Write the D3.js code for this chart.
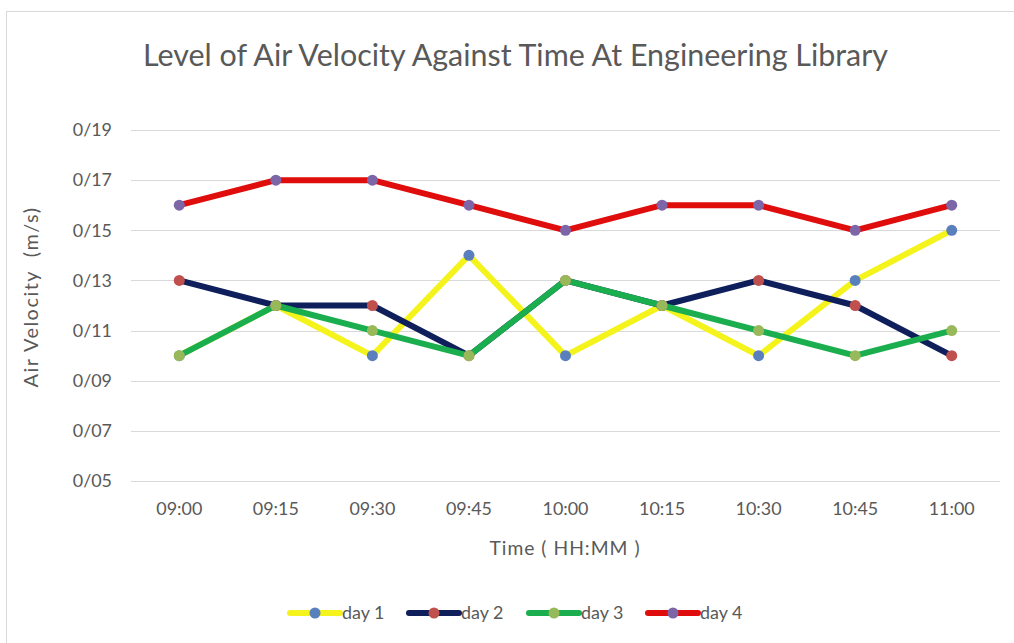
<!DOCTYPE html>
<html>
<head>
<meta charset="utf-8">
<script src="https://cdn.jsdelivr.net/npm/d3@7"></script>
<style>
  body { margin: 0; background: #fff; }
  text { font-family: Lato, "Open Sans", sans-serif; fill: #595959; }
</style>
</head>
<body>
<div id="chart"></div>
<script>
const times = ["09:00", "09:15", "09:30", "09:45", "10:00", "10:15", "10:30", "10:45", "11:00"];
const yTicks = [0.05, 0.07, 0.09, 0.11, 0.13, 0.15, 0.17, 0.19];
const day1 = [0.10, 0.12, 0.10, 0.14, 0.10, 0.12, 0.10, 0.13, 0.15];
const day2 = [0.13, 0.12, 0.12, 0.10, 0.13, 0.12, 0.13, 0.12, 0.10];
const day3 = [0.10, 0.12, 0.11, 0.10, 0.13, 0.12, 0.11, 0.10, 0.11];
const day4 = [0.16, 0.17, 0.17, 0.16, 0.15, 0.16, 0.16, 0.15, 0.16];
const seriesNames = ["day 1", "day 2", "day 3", "day 4"];

const series = [
  { name: seriesNames[0], values: day1, line: "#f4f41c", dot: "#5a7fbd" },
  { name: seriesNames[1], values: day2, line: "#0e1f5b", dot: "#c0504d" },
  { name: seriesNames[2], values: day3, line: "#1aae4e", dot: "#97b95a" },
  { name: seriesNames[3], values: day4, line: "#e00d0d", dot: "#7d66a8" }
];

const width = 1014, height = 643;
const margin = { top: 130, left: 131, right: 14, bottom: 162 };

const svg = d3.select("#chart").append("svg")
  .attr("width", width)
  .attr("height", height);

// scale a text's font so it is as wide as the original
function fitWidth(sel, target) {
  const node = sel.node();
  const size = parseFloat(sel.style("font-size"));
  const w = node.getComputedTextLength();
  sel.style("font-size", (size * target / w).toFixed(2) + "px");
  return sel;
}

// chart border
svg.append("rect")
  .attr("x", 6.5).attr("y", 11.5)
  .attr("width", 1020).attr("height", 640)
  .attr("fill", "#fff")
  .attr("stroke", "#d9d9d9");

const x = d3.scaleBand()
  .domain(times)
  .range([margin.left, width - margin.right]);

const y = d3.scaleLinear()
  .domain([0.05, 0.19])
  .range([481, 130]);

// gridlines
svg.append("g")
  .selectAll("line")
  .data(yTicks).enter()
  .append("line")
  .attr("x1", margin.left)
  .attr("x2", width - margin.right)
  .attr("y1", d => Math.round(y(d)) + 0.5)
  .attr("y2", d => Math.round(y(d)) + 0.5)
  .attr("stroke", "#d9d9d9")
  .attr("stroke-width", 1);

// work out a tick font size from one label
const probe = svg.append("text").style("font-size", "16px").text("09:00");
fitWidth(probe, 46);
const tickSize = probe.style("font-size");
probe.remove();

// y tick labels
svg.append("g")
  .selectAll("text")
  .data(yTicks).enter()
  .append("text")
  .attr("x", 112)
  .attr("y", d => y(d))
  .attr("dy", "0.35em")
  .attr("text-anchor", "end")
  .style("font-size", tickSize)
  .text(d => "0/" + d3.format("02d")(Math.round(d * 100)));

// x tick labels
svg.append("g")
  .selectAll("text")
  .data(times).enter()
  .append("text")
  .attr("x", d => x(d) + x.bandwidth() / 2)
  .attr("y", 509)
  .attr("dy", "0.35em")
  .attr("text-anchor", "middle")
  .style("font-size", tickSize)
  .text(d => d);

// title
const title = svg.append("text")
  .attr("x", 515.5)
  .attr("y", 55)
  .attr("dy", "0.35em")
  .attr("text-anchor", "middle")
  .style("font-size", "28px")
  .text("Level of Air Velocity Against Time At Engineering Library");
fitWidth(title, 745);

// axis titles
const xTitle = svg.append("text")
  .attr("x", 565)
  .attr("y", 548)
  .attr("dy", "0.35em")
  .attr("text-anchor", "middle")
  .style("font-size", "16px")
  .style("letter-spacing", "1px")
  .style("white-space", "pre")
  .text("Time ( HH:MM )");
fitWidth(xTitle, 154);

const yTitle = svg.append("text")
  .attr("transform", "translate(31,297) rotate(-90)")
  .attr("dy", "0.35em")
  .attr("text-anchor", "middle")
  .style("font-size", "16px")
  .style("letter-spacing", "1.5px")
  .style("white-space", "pre")
  .text("Air Velocity  (m/s)");
fitWidth(yTitle, 188);

const line = d3.line()
  .x((d, i) => x(times[i]) + x.bandwidth() / 2)
  .y(d => y(d));

const plot = svg.append("g");
series.forEach(s => {
  plot.append("path")
    .datum(s.values)
    .attr("d", line)
    .attr("fill", "none")
    .attr("stroke", s.line)
    .attr("stroke-width", 6)
    .attr("stroke-linejoin", "round")
    .attr("stroke-linecap", "round");
});
series.forEach(s => {
  plot.append("g")
    .selectAll("circle")
    .data(s.values).enter()
    .append("circle")
    .attr("cx", (d, i) => x(times[i]) + x.bandwidth() / 2)
    .attr("cy", d => y(d))
    .attr("r", 5.5)
    .attr("fill", s.dot);
});

// legend
const legendX = [290, 409, 529, 648];
const legend = svg.append("g");
series.forEach((s, i) => {
  const g = legend.append("g").attr("transform", `translate(${legendX[i]},613)`);
  g.append("line")
    .attr("x1", 0).attr("x2", 50)
    .attr("stroke", s.line)
    .attr("stroke-width", 6)
    .attr("stroke-linecap", "round");
  g.append("circle").attr("cx", 25).attr("r", 5.5).attr("fill", s.dot);
  g.append("text")
    .attr("x", 52)
    .attr("dy", "0.35em")
    .style("font-size", tickSize)
    .text(s.name);
});
</script>
</body>
</html>
